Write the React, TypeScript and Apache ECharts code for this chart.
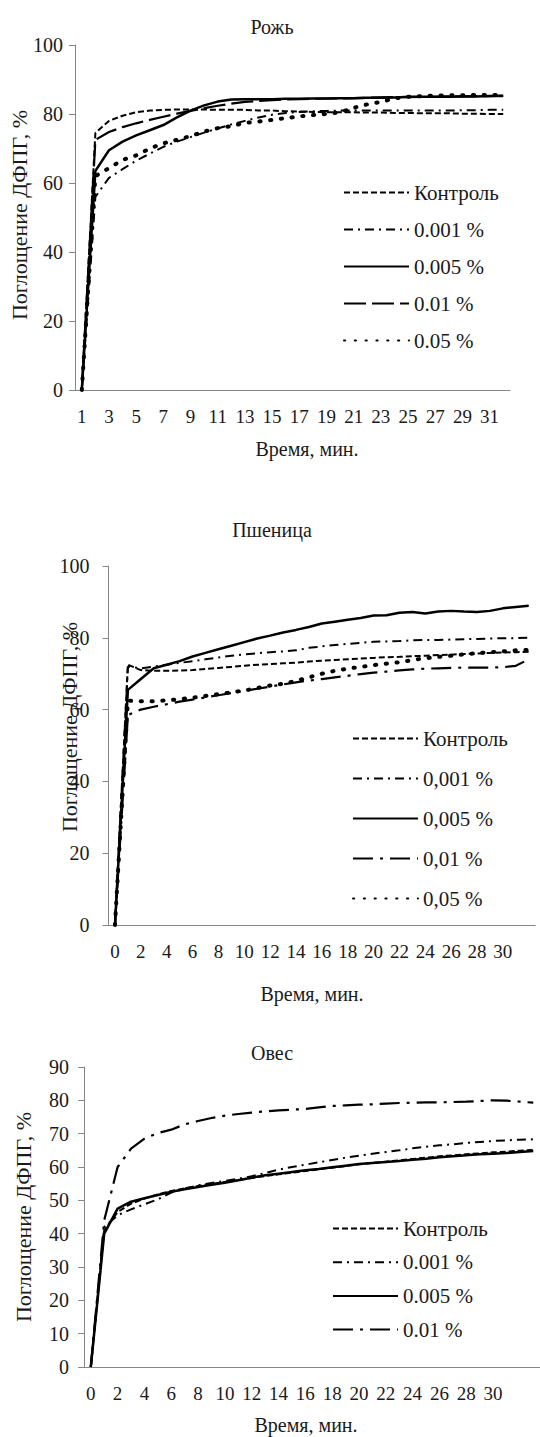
import React, { useEffect, useRef } from "react";
import * as echarts from "echarts";

// ---------- data ----------
const ryeTime = ["1","2","3","4","5","6","7","8","9","10","11","12","13","14","15","16","17","18","19","20","21","22","23","24","25","26","27","28","29","30","31","32"];
const ryeControl = [0, 74.5, 78, 79.5, 80.5, 81, 81.2, 81.3, 81.3, 81.3, 81.2, 81.2, 81.2, 81, 81, 80.8, 80.7, 80.6, 80.5, 80.5, 80.5, 80.4, 80.4, 80.3, 80.3, 80.2, 80.2, 80.2, 80.1, 80.1, 80, 80];
const rye0001 = [0, 56, 61.5, 64, 66.5, 68.5, 70.5, 72, 73.3, 74.6, 75.8, 77, 78, 79, 79.8, 80.3, 80.6, 80.8, 80.9, 81, 81, 81, 81, 81, 81, 81, 81, 81, 81.1, 81.1, 81.2, 81.2];
const rye0005 = [0, 63.5, 69.5, 72, 73.8, 75.3, 76.8, 79, 81, 82.5, 83.6, 84.2, 84.3, 84.3, 84.3, 84.4, 84.4, 84.5, 84.5, 84.6, 84.6, 84.7, 84.7, 84.8, 84.9, 85, 85, 85, 85.1, 85.1, 85.2, 85.2];
const rye001 = [0, 72.5, 74.8, 76.2, 77.3, 78.3, 79.2, 80.1, 80.9, 81.7, 82.4, 83, 83.5, 83.8, 84, 84.2, 84.3, 84.4, 84.5, 84.5, 84.6, 84.7, 84.8, 84.9, 85, 85, 85, 85.1, 85.1, 85.2, 85.2, 85.3];
const rye005 = [0, 62, 64.3, 66.7, 68, 70, 71.5, 72.5, 73.6, 74.9, 75.9, 76.5, 77.4, 77.8, 78.3, 78.8, 79.3, 79.7, 80, 80.5, 81.8, 82.8, 83.5, 84.5, 85, 85.2, 85.3, 85.4, 85.4, 85.5, 85.5, 85.5];

const wheatTime = ["0","1","2","3","4","5","6","7","8","9","10","11","12","13","14","15","16","17","18","19","20","21","22","23","24","25","26","27","28","29","30","31","32"];
const wheatControl = [0, 72.5, 71, 70.8, 70.8, 70.9, 71, 71.3, 71.6, 71.9, 72.2, 72.5, 72.7, 72.9, 73.1, 73.4, 73.6, 73.8, 74, 74.2, 74.4, 74.6, 74.7, 74.9, 75, 75.2, 75.3, 75.5, 75.6, 75.8, 75.9, 76, 76.1];
const wheat0001 = [0, 72, 71.5, 72, 72.5, 73, 73.5, 74, 74.5, 75, 75.4, 75.7, 76, 76.2, 76.5, 77.2, 77.6, 78, 78.3, 78.6, 78.9, 79, 79.1, 79.3, 79.4, 79.4, 79.5, 79.6, 79.7, 79.8, 79.9, 79.9, 80];
const wheat0005 = [0, 65.5, 68.5, 71.5, 72.5, 73.5, 74.8, 75.8, 76.8, 77.8, 78.8, 79.8, 80.6, 81.5, 82.2, 83, 84, 84.5, 85, 85.5, 86.2, 86.3, 87, 87.2, 86.8, 87.3, 87.5, 87.3, 87.2, 87.5, 88.2, 88.6, 88.9];
const wheat001 = [0, 58.5, 60, 60.8, 61.5, 62.2, 62.8, 63.4, 64, 64.6, 65.2, 65.8, 66.4, 67, 67.6, 68.1, 68.5, 69, 69.4, 69.9, 70.3, 70.6, 70.9, 71.2, 71.4, 71.5, 71.6, 71.7, 71.7, 71.7, 71.8, 72.2, 74];
const wheat005 = [0, 62.5, 62.3, 62.3, 62.6, 62.9, 63.3, 63.8, 64.3, 64.8, 65.3, 66, 66.7, 67.2, 68, 69, 70, 70.8, 71.4, 71.9, 72.4, 72.8, 73.2, 73.8, 74.3, 74.7, 75, 75.4, 75.7, 76, 76.2, 76.5, 76.6];

const oatTime = ["0","1","2","3","4","5","6","7","8","9","10","11","12","13","14","15","16","17","18","19","20","21","22","23","24","25","26","27","28","29","30","31","32","33"];
const oatControl = [0, 41, 46.5, 49, 50.5, 51.8, 52.8, 53.6, 54.3, 54.9, 55.5, 56.1, 56.7, 57.3, 57.8, 58.3, 58.8, 59.3, 59.8, 60.3, 60.8, 61.2, 61.6, 62, 62.4, 62.8, 63.2, 63.5, 63.8, 64.1, 64.4, 64.6, 64.9, 65.1];
const oat0001 = [0, 42, 45.5, 47.3, 48.8, 50.3, 52.3, 53.5, 54.5, 55.2, 55.8, 56.5, 57.2, 58.2, 59.2, 60, 60.7, 61.4, 62.1, 62.8, 63.4, 64, 64.5, 65, 65.6, 66.1, 66.5, 66.8, 67.2, 67.5, 67.8, 68, 68.2, 68.3];
const oat0005 = [0, 40, 47.5, 49.6, 50.6, 51.6, 52.6, 53.3, 54, 54.7, 55.3, 56, 56.8, 57.5, 58, 58.5, 59, 59.4, 59.9, 60.4, 60.9, 61.2, 61.5, 61.8, 62.2, 62.5, 62.9, 63.2, 63.5, 63.8, 64, 64.2, 64.5, 64.8];
const oat001 = [0, 44, 60, 65.5, 68.5, 70.2, 71.2, 72.8, 73.8, 74.7, 75.4, 75.9, 76.3, 76.7, 77, 77.2, 77.4, 77.9, 78.3, 78.5, 78.7, 78.8, 79, 79.2, 79.3, 79.4, 79.4, 79.5, 79.6, 79.8, 80, 79.9, 79.6, 79.3];

const ryeNames = ["Контроль", "0.001 %", "0.005 %", "0.01 %", "0.05 %"];
const wheatNames = ["Контроль", "0,001 %", "0,005 %", "0,01 %", "0,05 %"];
const oatNames = ["Контроль", "0.001 %", "0.005 %", "0.01 %"];

const yName = "Поглощение ДФПГ, %";
const xName = "Время, мин.";

// ---------- styles ----------
const FONT = "Liberation Serif";
const INK = "#1a1a1a";
const AXIS = "#868686";

const DASH = [6, 3];
const DASHDOT = [9, 5, 2, 5];
const LONGDASH = [22, 6];
const LONGDASHDOT = [20, 7, 3, 7];
const DOT = [1.2, 9.6];

type Style = { dash: number[] | "solid"; width: number; dot?: boolean };
const sControl: Style = { dash: DASH, width: 2 };
const s0001: Style = { dash: DASHDOT, width: 2 };
const s0005: Style = { dash: "solid", width: 2.5 };
const sLongDash: Style = { dash: LONGDASH, width: 2.2 };
const sLongDashDot: Style = { dash: LONGDASHDOT, width: 2.2 };
const sDot: Style = { dash: DOT, width: 4, dot: true };

type Cfg = {
  title: string;
  titleTop: number;
  categories: string[];
  grid: { left: number; top: number; width: number; height: number };
  yMax: number;
  yInterval: number;
  yMargin: number;
  legend: { left: number; top: number; gap: number };
  yNamePos: [number, number];
  xNamePos: [number, number];
  series: { name: string; data: number[]; style: Style }[];
};

function makeOption(c: Cfg) {
  const txt = { fontFamily: FONT, color: INK };
  return {
    animation: false,
    backgroundColor: "#ffffff",
    title: {
      text: c.title,
      left: 272,
      top: c.titleTop,
      padding: 0,
      textAlign: "center",
      textStyle: { ...txt, fontSize: 20, fontWeight: "normal" },
    },
    grid: { ...c.grid, containLabel: false },
    xAxis: {
      type: "category",
      data: c.categories,
      boundaryGap: true,
      axisLine: { show: true, lineStyle: { color: AXIS, width: 1 } },
      axisTick: { show: false },
      splitLine: { show: false },
      axisLabel: {
        interval: (i: number) => i % 2 === 0 && i <= 30,
        margin: 17,
        fontSize: 19,
        ...txt,
      },
    },
    yAxis: {
      type: "value",
      min: 0,
      max: c.yMax,
      interval: c.yInterval,
      axisLine: { show: true, lineStyle: { color: AXIS, width: 1 } },
      axisTick: { show: true, length: 6, lineStyle: { color: AXIS } },
      splitLine: { show: false },
      axisLabel: { margin: c.yMargin, fontSize: 20, ...txt },
    },
    legend: {
      orient: "vertical",
      left: c.legend.left,
      top: c.legend.top,
      padding: 0,
      itemWidth: 65,
      itemHeight: 22,
      itemGap: c.legend.gap,
      selectedMode: false,
      textStyle: { ...txt, fontSize: 21 },
      itemStyle: { opacity: 0, borderWidth: 0 },
      data: c.series.map((s) => s.name),
    },
    graphic: [
      {
        type: "text",
        x: c.yNamePos[0],
        y: c.yNamePos[1],
        rotation: Math.PI / 2,
        style: { text: yName, fontFamily: FONT, fontSize: 22, fill: INK, align: "center", verticalAlign: "middle" },
      },
      {
        type: "text",
        x: c.xNamePos[0],
        y: c.xNamePos[1],
        style: { text: xName, fontFamily: FONT, fontSize: 20, fill: INK, align: "center", verticalAlign: "middle" },
      },
    ],
    series: c.series.map((s) => ({
      type: "line",
      name: s.name,
      data: s.data,
      symbol: "none",
      showSymbol: false,
      silent: true,
      emphasis: { disabled: true },
      itemStyle: { color: "#000" },
      lineStyle: {
        color: "#000",
        width: s.style.width,
        type: s.style.dash,
        cap: s.style.dot ? "round" : "butt",
      },
    })),
  };
}

const ryeOption = makeOption({
  title: "Рожь",
  titleTop: 17,
  categories: ryeTime,
  grid: { left: 75, top: 45, width: 435, height: 345 },
  yMax: 100,
  yInterval: 20,
  yMargin: 12,
  legend: { left: 343, top: 182, gap: 16 },
  yNamePos: [19, 215],
  xNamePos: [307, 449],
  series: [
    { name: ryeNames[0], data: ryeControl, style: sControl },
    { name: ryeNames[1], data: rye0001, style: s0001 },
    { name: ryeNames[2], data: rye0005, style: s0005 },
    { name: ryeNames[3], data: rye001, style: sLongDash },
    { name: ryeNames[4], data: rye005, style: sDot },
  ],
});

// chart 2 sits at page y = 465
const wheatOption = makeOption({
  title: "Пшеница",
  titleTop: 55,
  categories: wheatTime,
  grid: { left: 108.5, top: 101, width: 426.7, height: 359 },
  yMax: 100,
  yInterval: 20,
  yMargin: 19,
  legend: { left: 352, top: 263, gap: 19 },
  yNamePos: [69, 262],
  xNamePos: [312, 529],
  series: [
    { name: wheatNames[0], data: wheatControl, style: sControl },
    { name: wheatNames[1], data: wheat0001, style: s0001 },
    { name: wheatNames[2], data: wheat0005, style: s0005 },
    { name: wheatNames[3], data: wheat001, style: sLongDashDot },
    { name: wheatNames[4], data: wheat005, style: sDot },
  ],
});

// chart 3 sits at page y = 1010
const oatOption = makeOption({
  title: "Овес",
  titleTop: 33,
  categories: oatTime,
  grid: { left: 84.1, top: 57, width: 467.5, height: 300 },
  yMax: 90,
  yInterval: 10,
  yMargin: 15,
  legend: { left: 332, top: 208, gap: 12.7 },
  yNamePos: [23, 207],
  xNamePos: [306, 415],
  series: [
    { name: oatNames[0], data: oatControl, style: sControl },
    { name: oatNames[1], data: oat0001, style: s0001 },
    { name: oatNames[2], data: oat0005, style: s0005 },
    { name: oatNames[3], data: oat001, style: sLongDashDot },
  ],
});

function Chart({ option, top, height }: { option: any; top: number; height: number }) {
  const ref = useRef<HTMLDivElement>(null);
  useEffect(() => {
    if (!ref.current) return;
    const chart = echarts.init(ref.current, null, { renderer: "svg" });
    chart.setOption(option);
    return () => chart.dispose();
  }, [option]);
  return <div ref={ref} style={{ position: "absolute", left: 0, top, width: 540, height }} />;
}

export default function App() {
  return (
    <div style={{ position: "absolute", left: 0, top: 0, width: 540, height: 1437, background: "#fff", overflow: "hidden" }}>
      <Chart option={ryeOption} top={0} height={465} />
      <Chart option={wheatOption} top={465} height={545} />
      <Chart option={oatOption} top={1010} height={427} />
    </div>
  );
}
